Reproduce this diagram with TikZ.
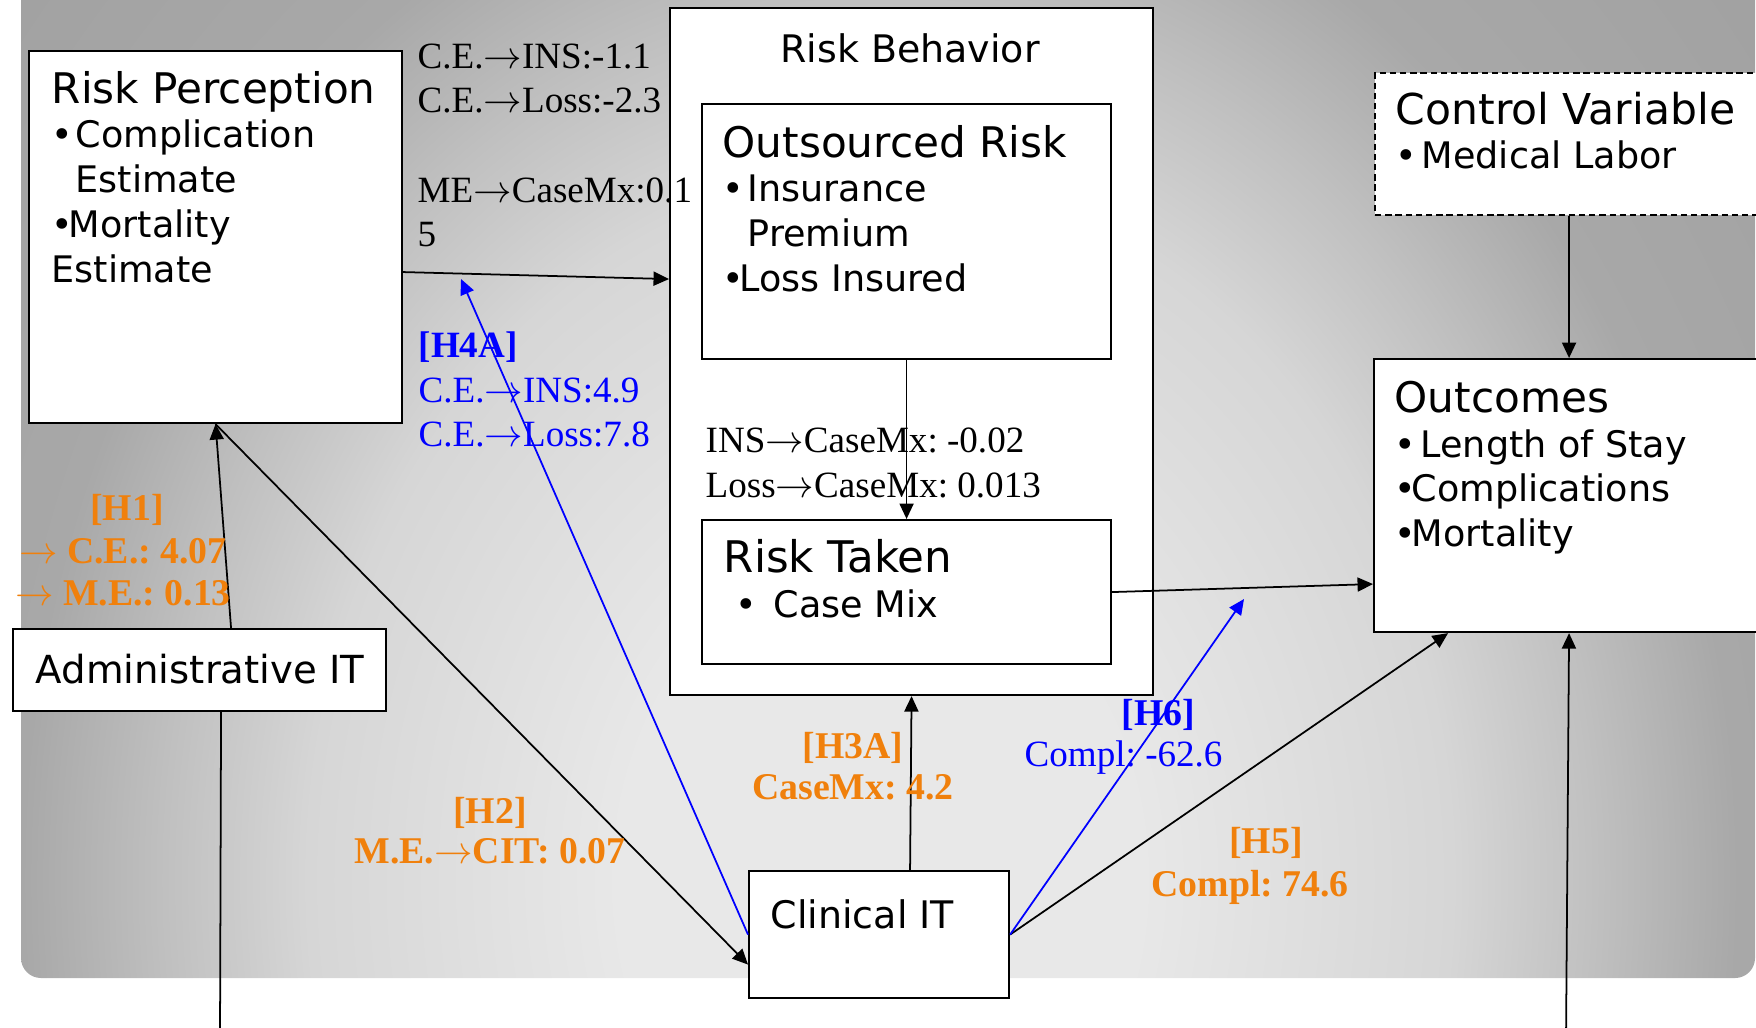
\documentclass[tikz,border=0pt]{standalone}
\usepackage{fontspec}
\setmainfont{Liberation Serif}
\newfontfamily\verd{DejaVu Sans}
\usetikzlibrary{arrows.meta}
\definecolor{hyporange}{RGB}{240,128,12}
\definecolor{bglite}{RGB}{232,232,232}
\definecolor{bgmid}{RGB}{214,214,214}
\definecolor{bgmidd}{RGB}{192,192,192}
\definecolor{bgdark}{RGB}{168,168,168}
\definecolor{bgdeep}{RGB}{162,162,162}
\pgfdeclareradialshading{bgglow}{\pgfpointorigin}{color(0bp)=(bglite); color(5bp)=(bglite); color(11bp)=(bgmid); color(13.75bp)=(bgmidd); color(16.5bp)=(bgdark); color(21.5bp)=(bgdeep); color(50bp)=(bgdeep)}
\newcommand\bul[1]{\makebox[#1][l]{•}}
\newcommand\ttl{\fontsize{12}{12.8}\selectfont}
\newcommand\itm{\fontsize{10.4}{12.8}\selectfont}
\newcommand\ar{$\rightarrow$}
\newcommand\lstack[1]{\parbox[t]{6cm}{\raggedright #1}}
\newcommand\cstack[1]{\parbox[t]{4cm}{\centering #1}}
\frenchspacing
\begin{document}
\begin{tikzpicture}[
    box/.style={draw, fill=white, line width=0.6pt, inner sep=0pt, anchor=north west},
    conn/.style={line width=0.5pt, -{Triangle[length=4.4pt,width=4pt]}},
    bconn/.style={conn, blue},
    vtxt/.style={inner sep=0pt, anchor=base west, font=\verd\itm},
    lbl/.style={inner sep=0pt, anchor=base west, font=\fontsize{10.55}{12.8}\selectfont},
    hyp/.style={inner sep=0pt, anchor=base, text=hyporange, font=\bfseries\fontsize{10.75}{12.2}\selectfont}
  ]
  \useasboundingbox (0,0) rectangle (17.56,-10.27);
  \clip (0,0) rectangle (17.56,-10.27);

  % background panel
  \begin{scope}
    \clip[rounded corners=0.2cm] (0.21,0.5) rectangle (17.55,-9.78);
    \shade[shading=bgglow] (-4.2,7.2) rectangle (21.8,-24.8);
  \end{scope}

  % boxes
  \node[box, minimum width=3.73cm, minimum height=3.72cm] (rp) at (0.28,-0.50) {};
  \node[box, minimum width=4.83cm, minimum height=6.87cm] (rb) at (6.69,-0.07) {};
  \node[box, minimum width=4.09cm, minimum height=2.55cm] (osr) at (7.01,-1.03) {};
  \node[box, minimum width=4.09cm, minimum height=1.44cm] (rt) at (7.01,-5.19) {};
  \node[box, dash pattern=on 1.8pt off 1.1pt, minimum width=3.88cm, minimum height=1.42cm] (cv) at (13.74,-0.72) {};
  \node[box, minimum width=3.90cm, minimum height=2.73cm] (oc) at (13.73,-3.58) {};
  \node[box, minimum width=3.73cm, minimum height=0.82cm] (ait) at (0.12,-6.28) {};
  \node[box, minimum width=2.60cm, minimum height=1.27cm] (cit) at (7.48,-8.70) {};

  % box texts
  \node[vtxt] (rptxt) at (0.51,-1.03) {\lstack{\ttl Risk Perception\\\itm\bul{0.24cm}Complication\\\hspace*{0.24cm}Estimate\\\bul{0.17cm}Mortality\\Estimate}};
  \node[vtxt, anchor=base, font=\verd\fontsize{10.8}{12.8}\selectfont] (rbtxt) at (9.10,-0.62) {Risk Behavior};
  \node[vtxt] (osrtxt) at (7.22,-1.57) {\lstack{\ttl Outsourced Risk\\\itm\bul{0.25cm}Insurance\\\hspace*{0.25cm}Premium\\\bul{0.17cm}Loss Insured}};
  \node[vtxt] (rttxt) at (7.23,-5.72) {\lstack{\fontsize{12.4}{12.8}\selectfont Risk Taken\\\itm\hspace*{0.12cm}\bul{0.38cm}Case Mix}};
  \node[vtxt] (cvtxt) at (13.95,-1.24) {\lstack{\fontsize{12.1}{12.8}\selectfont Control Variable\\\itm\bul{0.26cm}Medical Labor}};
  \node[vtxt] (octxt) at (13.94,-4.12) {\lstack{\ttl Outcomes\\\itm\bul{0.26cm}Length of Stay\\\bul{0.17cm}Complications\\\bul{0.17cm}Mortality}};
  \node[vtxt, font=\verd\fontsize{11}{12.8}\selectfont] (aittxt) at (0.35,-6.83) {Administrative IT};
  \node[vtxt, font=\verd\fontsize{10.8}{12.8}\selectfont] (cittxt) at (7.70,-9.28) {Clinical IT};

  % free ends
  \coordinate (h4tip) at (4.61,-2.79);
  \coordinate (h6tip) at (12.44,-5.99);
  \coordinate (aitout) at (2.20,-10.40);
  \coordinate (ocin) at (15.66,-10.40);

  % paths
  \draw[conn] ([yshift=-3.5mm]rp.east) -- ([yshift=7.25mm]rb.west);
  \draw[conn] (osr.south) -- (rt.north);
  \draw[conn] (rt.east) -- ([yshift=-8.85mm]oc.west);
  \draw[conn] (cv.south) -- (oc.north);
  \draw[conn] ([xshift=3.15mm]ait.north) -- (rp.south);
  \draw[conn] (rp.south) -- ([yshift=-3mm]cit.west);
  \draw[conn] ([xshift=3.1mm]cit.north) -- (rb.south);
  \draw[conn] (cit.east) -- ([xshift=-12.1mm]oc.south);
  \draw[line width=0.5pt] ([xshift=2.15mm]ait.south) -- (aitout);
  \draw[conn] (ocin) -- (oc.south);
  \draw[bconn] (cit.west) -- (h4tip);
  \draw[bconn] (cit.east) -- (h6tip);

  % coefficients
  \node[lbl] (ce) at (4.17,-0.68) {\lstack{C.E.\ar INS:-1.1\\C.E.\ar Loss:-2.3}};
  \node[lbl] (me) at (4.17,-2.02) {\lstack{ME\ar CaseMx:0.1\\5}};
  \node[lbl, text=blue] (h4a) at (4.18,-3.57) {\lstack{\textbf{[H4A]}\\C.E.\ar INS:4.9\\C.E.\ar Loss:7.8}};
  \node[lbl] (ins) at (7.05,-4.52) {\lstack{INS\ar CaseMx: -0.02\\Loss\ar CaseMx: 0.013}};
  \node[hyp] (h1) at (1.27,-5.20) {[H1]};
  \node[hyp] (h1val) at (1.23,-5.63) {\cstack{\ar{} C.E.: 4.07\\\ar{} M.E.: 0.13}};
  \node[hyp, font=\bfseries\fontsize{10.75}{11.4}\selectfont] (h2) at (4.90,-8.23) {\cstack{[H2]\\M.E.\ar CIT: 0.07}};
  \node[hyp, font=\bfseries\fontsize{10.75}{11.7}\selectfont] (h3a) at (8.53,-7.58) {\cstack{[H3A]\\CaseMx: 4.2}};
  \node[hyp] (h5) at (12.66,-8.53) {[H5]};
  \node[hyp] (h5val) at (12.50,-8.96) {Compl: 74.6};
  \node[lbl, text=blue, font=\bfseries\fontsize{10.75}{12.8}\selectfont] (h6) at (11.21,-7.25) {[H6]};
  \node[lbl, text=blue] (h6val) at (10.24,-7.66) {Compl: -62.6};
\end{tikzpicture}
\end{document}
